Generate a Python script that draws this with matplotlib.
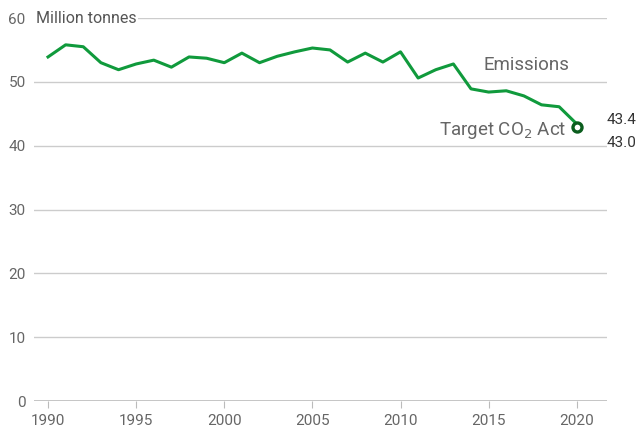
import matplotlib.pyplot as plt

# Emissions in million tonnes
years = list(range(1990, 2021))
emissions = [53.9, 55.8, 55.5, 53.0, 51.9, 52.8, 53.4, 52.3, 53.9, 53.7,
             53.0, 54.5, 53.0, 54.0, 54.7, 55.3, 55.0, 53.1, 54.5, 53.1,
             54.7, 50.6, 51.9, 52.8, 48.9, 48.4, 48.6, 47.8, 46.4, 46.1,
             43.4]
target_year = 2020
target_value = 43.0
yticks = [0, 10, 20, 30, 40, 50, 60]
xticks = [1990, 1995, 2000, 2005, 2010, 2015, 2020]

plt.rcParams['font.family'] = ['Roboto', 'DejaVu Sans']
grey = '#666666'

fig = plt.figure(figsize=(6.4, 4.34), dpi=100)
ax = fig.add_axes([0.053, 0.076, 0.895, 0.8825])

ax.set_xlim(1989.2, 2021.7)
ax.set_ylim(0, 60)

# gridlines
for y in yticks[1:]:
    ax.axhline(y, color='#cccccc', lw=1, zorder=0)
ax.axhline(0, color='#bbbbbb', lw=1.2, zorder=1)

ax.plot(years, emissions, color='#109a3c', lw=2.2, zorder=3)
ax.plot([target_year], [target_value], marker='o', ms=6.5, mfc='white',
        mec='#0b5d1e', mew=2.4, zorder=5)

ax.set_yticks(yticks)
ax.set_yticklabels([str(v) for v in yticks])
ax.set_xticks(xticks)
ax.tick_params(axis='y', length=0, pad=6, labelsize=11, labelcolor=grey)
ax.tick_params(axis='x', length=5, color='#bbbbbb', pad=4, labelsize=11,
               labelcolor=grey)
for s in ax.spines.values():
    s.set_visible(False)

ax.text(1989.3, 60, 'Million tonnes', fontsize=11.5, color='#555555',
        ha='left', va='center', zorder=6,
        bbox=dict(facecolor='white', edgecolor='none', pad=1.5))
ax.text(2019.6, 52.6, 'Emissions', fontsize=13.5, color=grey,
        ha='right', va='center')
ax.text(2019.4, 42.3, 'Target CO$_2$ Act', fontsize=13.5, color=grey,
        ha='right', va='center')
ax.text(2021.7, emissions[-1] + 0.6, '43.4', fontsize=11, color='#333333',
        ha='left', va='center', clip_on=False)
ax.text(2021.7, target_value - 2.6, '43.0', fontsize=11, color='#333333',
        ha='left', va='center', clip_on=False)

fig.savefig('out.png', dpi=100)
